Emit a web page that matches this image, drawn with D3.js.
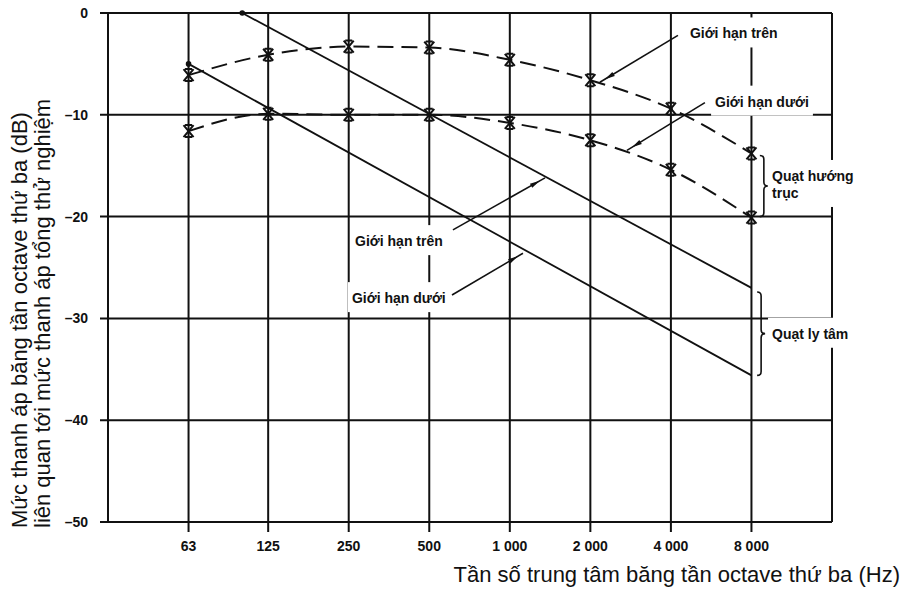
<!DOCTYPE html>
<html>
<head>
<meta charset="utf-8">
<script src="https://cdn.jsdelivr.net/npm/d3@7.9.0/dist/d3.min.js"></script>
<style>
  body { margin: 0; background: #fff; }
  svg { display: block; font-family: "Liberation Sans", Arial, sans-serif; }
</style>
</head>
<body>
<svg id="chart" width="904" height="594"></svg>
<script>
// octave band centres and their printed labels
const freqs = [63, 125, 250, 500, 1000, 2000, 4000, 8000];
const freqLabels = ['63', '125', '250', '500', '1 000', '2 000', '4 000', '8 000'];
const dbTicks = [0, -10, -20, -30, -40, -50];

// axial fan (dashed, x markers)
const axialUpper = [-6.1, -4.1, -3.3, -3.4, -4.6, -6.6, -9.4, -13.8];
const axialLower = [-11.6, -9.9, -10, -10, -10.8, -12.5, -15.4, -20.1];

// centrifugal fan (solid straight lines) [Hz, dB]
const centUpper = [[100, 0], [8000, -27]];
const centLower = [[63, -5], [8000, -35.6]];

// annotations, in Hz / dB
const labels = [
  { f: 4710, db: -2.5, lines: ['Giới hạn trên'] },
  { f: 5850, db: -9.2, lines: ['Giới hạn dưới'] },
  { f: 9550, db: -16.5, lines: ['Quạt hướng', 'trục'] },
  { f: 9550, db: -32.0, lines: ['Quạt ly tâm'] },
  { f: 264, db: -22.9, lines: ['Giới hạn trên'] },
  { f: 257, db: -28.5, lines: ['Giới hạn dưới'] }
];
const arrows = [
  { from: [4250, -2.2], to: [2170, -6.8] },
  { from: [5360, -8.8], to: [2740, -13.5] },
  { from: [613, -21.3], to: [1354, -16.2] },
  { from: [608, -27.7], to: [1120, -23.6] }
];
const braces = [
  { f: 8600, top: -14, bottom: -20 },
  { f: 8400, top: -27.4, bottom: -35.6 }
];

const svg = d3.select('#chart');
const ink = '#111';

const x = d3.scaleLog().base(2).domain([31.5, 16000]).range([108, 832]);
const y = d3.scaleLinear().domain([-50, 0]).range([522, 13]);

const grid = svg.append('g');
const knock = svg.append('g');
const marks = svg.append('g');
const front = svg.append('g');

// horizontal grid with little ticks on the left
dbTicks.forEach((d) => {
  grid.append('line')
    .attr('x1', 100).attr('x2', x(16000))
    .attr('y1', y(d)).attr('y2', y(d))
    .attr('stroke', ink).attr('stroke-width', 2);
});
// vertical grid with ticks below
freqs.forEach((f) => {
  grid.append('line')
    .attr('x1', x(f)).attr('x2', x(f))
    .attr('y1', y(0)).attr('y2', y(-50) + 10)
    .attr('stroke', ink).attr('stroke-width', 2);
});
[31.5, 16000].forEach((f) => {
  grid.append('line')
    .attr('x1', x(f)).attr('x2', x(f))
    .attr('y1', y(0)).attr('y2', y(-50))
    .attr('stroke', ink).attr('stroke-width', 2);
});

// tick labels
front.selectAll('.ylab').data(dbTicks).join('text')
  .attr('x', 88).attr('y', (d) => y(d) + 5)
  .attr('text-anchor', 'end')
  .attr('font-size', 14).attr('font-weight', 'bold').attr('fill', ink)
  .text((d) => (d < 0 ? '–' + Math.abs(d) : d));

front.selectAll('.xlab').data(freqs).join('text')
  .attr('x', (d) => x(d)).attr('y', 551)
  .attr('text-anchor', 'middle')
  .attr('font-size', 14).attr('font-weight', 'bold').attr('fill', ink)
  .text((d, i) => freqLabels[i]);

// axis titles
front.append('text')
  .attr('x', 900).attr('y', 582)
  .attr('text-anchor', 'end').attr('font-size', 22).attr('fill', ink)
  .text('Tần số trung tâm băng tần octave thứ ba (Hz)');

front.append('text')
  .attr('transform', 'translate(27,528) rotate(-90)')
  .attr('font-size', 22).attr('fill', ink)
  .text('Mức thanh áp băng tần octave thứ ba (dB)');
front.append('text')
  .attr('transform', 'translate(50,528) rotate(-90)')
  .attr('font-size', 22).attr('fill', ink)
  .text('liên quan tới mức thanh áp tổng thử nghiệm');

// centrifugal fan lines
const straight = d3.line().x((d) => x(d[0])).y((d) => y(d[1]));
[centUpper, centLower].forEach((s) => {
  marks.append('path')
    .attr('d', straight(s))
    .attr('fill', 'none').attr('stroke', ink).attr('stroke-width', 1.8);
  marks.append('circle')
    .attr('cx', x(s[0][0])).attr('cy', y(s[0][1])).attr('r', 2.8)
    .attr('fill', ink);
});

// axial fan dashed curves
const curve = d3.line()
  .x((d, i) => x(freqs[i])).y((d) => y(d))
  .curve(d3.curveMonotoneX);
const xMark = 'M-5,-6L5,6M5,-6L-5,6M-3.5,-6H3.5M-3.5,6H3.5';
[axialUpper, axialLower].forEach((s) => {
  marks.append('path')
    .attr('d', curve(s))
    .attr('fill', 'none').attr('stroke', ink).attr('stroke-width', 2)
    .attr('stroke-dasharray', '16,8');
  marks.selectAll(null).data(s).join('path')
    .attr('d', xMark)
    .attr('transform', (d, i) => `translate(${x(freqs[i])},${y(d)})`)
    .attr('fill', 'none').attr('stroke', ink).attr('stroke-width', 2);
});

// arrows
svg.append('defs').append('marker')
  .attr('id', 'head')
  .attr('markerUnits', 'userSpaceOnUse')
  .attr('markerWidth', 12).attr('markerHeight', 6)
  .attr('refX', 16).attr('refY', 3)
  .attr('orient', 'auto')
  .style('overflow', 'visible')
  .append('path').attr('d', 'M0,0.6L10,3L0,5.4z').attr('fill', ink);

arrows.forEach((a) => {
  marks.append('line')
    .attr('x1', x(a.from[0])).attr('y1', y(a.from[1]))
    .attr('x2', x(a.to[0])).attr('y2', y(a.to[1]))
    .attr('stroke', ink).attr('stroke-width', 1.6)
    .attr('marker-end', 'url(#head)');
});

// braces
function brace(bx, y0, y1, w) {
  const m = (y0 + y1) / 2;
  return `M${bx},${y0} Q${bx + w},${y0} ${bx + w},${y0 + w}` +
    ` L${bx + w},${m - w} Q${bx + w},${m} ${bx + 2 * w},${m}` +
    ` Q${bx + w},${m} ${bx + w},${m + w} L${bx + w},${y1 - w}` +
    ` Q${bx + w},${y1} ${bx},${y1}`;
}
braces.forEach((b) => {
  marks.append('path')
    .attr('d', brace(x(b.f), y(b.top), y(b.bottom), 4))
    .attr('fill', 'none').attr('stroke', ink).attr('stroke-width', 1.6);
});

// annotation labels, with a white patch that breaks the grid behind them
labels.forEach((l) => {
  const t = front.append('text')
    .attr('x', x(l.f)).attr('y', y(l.db))
    .attr('font-size', 14).attr('font-weight', 'bold').attr('fill', ink);
  l.lines.forEach((s, i) => {
    t.append('tspan').attr('x', x(l.f)).attr('dy', i ? 17 : 0).text(s);
  });
  const bb = t.node().getBBox();
  knock.append('rect')
    .attr('x', bb.x - 4).attr('y', bb.y - 8)
    .attr('width', bb.width + 8).attr('height', bb.height + 14)
    .attr('fill', '#fff');
});
</script>
</body>
</html>
